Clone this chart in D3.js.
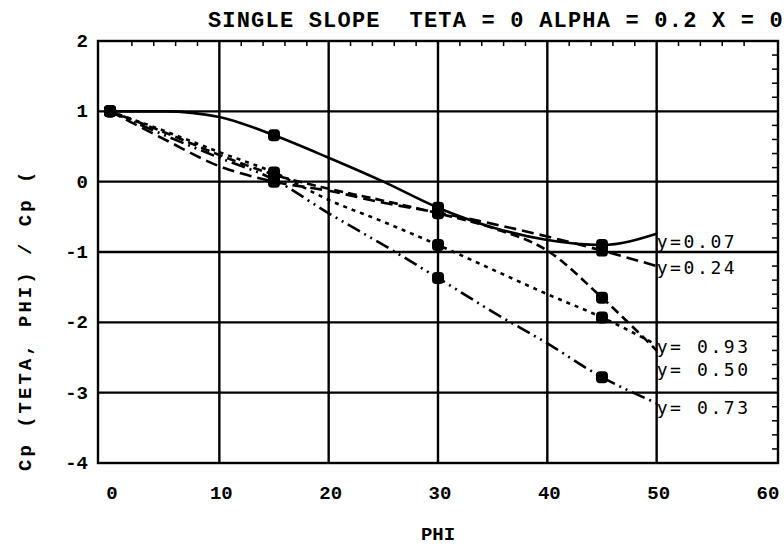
<!DOCTYPE html>
<html>
<head>
<meta charset="utf-8">
<script src="https://cdn.jsdelivr.net/npm/d3@7"></script>
<style>
  body { margin: 0; background: #fff; }
  text { fill: #000; white-space: pre; }
</style>
</head>
<body>
<div id="chart"></div>
<script>
// values
const phi = [0, 5, 10, 15, 20, 25, 30, 35, 40, 45, 50];
const markerPhi = [0, 15, 30, 45];

const y007 = [1.0, 1.0, 0.92, 0.66, 0.34, 0.0, -0.37, -0.65, -0.83, -0.9, -0.74];
const y024 = [1.0, 0.6, 0.22, 0.0, -0.13, -0.3, -0.44, -0.6, -0.78, -0.98, -1.2];
const y093 = [1.0, 0.7, 0.38, 0.1, -0.1, -0.27, -0.45, -0.66, -0.98, -1.65, -2.4];
const y050 = [1.0, 0.72, 0.42, 0.13, -0.26, -0.57, -0.9, -1.25, -1.6, -1.93, -2.32];
const y073 = [1.0, 0.66, 0.34, 0.03, -0.45, -0.9, -1.37, -1.85, -2.3, -2.78, -3.15];

const seriesNames = ["y=0.07", "y=0.24", "y= 0.93", "y= 0.50", "y= 0.73"];
const labelY = [-0.85, -1.22, -2.34, -2.66, -3.2];

const xTicks = [0, 10, 20, 30, 40, 50, 60];
const yTicks = [2, 1, 0, -1, -2, -3, -4];

const title = "SINGLE SLOPE  TETA = 0 ALPHA = 0.2 X = 0";

const width = 784, height = 548;
const margin = { top: 41, right: 6, bottom: 85, left: 98 };

const svg = d3.select("#chart").append("svg")
  .attr("width", width)
  .attr("height", height);

const x = d3.scaleLinear().domain([-1.1, 61.1]).range([margin.left, width - margin.right]);
const y = d3.scaleLinear().domain([-4, 2]).range([height - margin.bottom, margin.top]);

const x0 = x.range()[0], x1 = x.range()[1];
const yTop = y.range()[1], yBot = y.range()[0];

// grid
svg.append("g").selectAll("line")
  .data([10, 20, 30, 40, 50])
  .join("line")
  .attr("x1", d => x(d)).attr("x2", d => x(d))
  .attr("y1", yTop).attr("y2", yBot)
  .attr("stroke", "#000").attr("stroke-width", 2.4);

svg.append("g").selectAll("line")
  .data([1, 0, -1, -2, -3])
  .join("line")
  .attr("x1", x0).attr("x2", x1)
  .attr("y1", d => y(d)).attr("y2", d => y(d))
  .attr("stroke", "#000").attr("stroke-width", 2.4);

// minor ticks on top and right edges
svg.append("g").selectAll("line")
  .data(d3.range(2, 61, 2).filter(d => d % 10 !== 0))
  .join("line")
  .attr("x1", d => x(d)).attr("x2", d => x(d))
  .attr("y1", yTop).attr("y2", yTop + 5)
  .attr("stroke", "#000").attr("stroke-width", 1.5);

svg.append("g").selectAll("line")
  .data(d3.range(-3.8, 2, 0.2).filter(d => Math.abs(d - Math.round(d)) > 0.01))
  .join("line")
  .attr("x1", x1 - 6).attr("x2", x1)
  .attr("y1", d => y(d)).attr("y2", d => y(d))
  .attr("stroke", "#000").attr("stroke-width", 1.5);

// frame
svg.append("rect")
  .attr("x", x0).attr("y", yTop)
  .attr("width", x1 - x0).attr("height", yBot - yTop)
  .attr("fill", "none").attr("stroke", "#000").attr("stroke-width", 2.4);

// tick labels
const tickFont = "'Liberation Mono', 'Courier New', monospace";
svg.append("g").selectAll("text")
  .data(xTicks)
  .join("text")
  .attr("x", d => x(d) + 2)
  .attr("y", 499)
  .attr("text-anchor", "middle")
  .attr("font-family", tickFont).attr("font-weight", "bold").attr("font-size", 19)
  .text(d => d);

svg.append("g").selectAll("text")
  .data(yTicks)
  .join("text")
  .attr("x", 88)
  .attr("y", d => y(d) + 6)
  .attr("text-anchor", "end")
  .attr("font-family", tickFont).attr("font-weight", "bold").attr("font-size", 19)
  .text(d => d < 0 ? "-" + Math.abs(d) : d);

// axis titles
svg.append("text")
  .attr("x", x(30)).attr("y", 540)
  .attr("text-anchor", "middle")
  .attr("font-family", tickFont).attr("font-weight", "bold").attr("font-size", 19)
  .text("PHI");

svg.append("text")
  .attr("transform", "translate(31,471) rotate(-90)")
  .attr("font-family", tickFont).attr("font-weight", "bold").attr("font-size", 19)
  .attr("letter-spacing", 3)
  .text("Cp (TETA, PHI) / Cp (");

svg.append("text")
  .attr("x", 784).attr("y", 27)
  .attr("text-anchor", "end")
  .attr("font-family", tickFont).attr("font-weight", "bold").attr("font-size", 22)
  .attr("letter-spacing", 1.2)
  .text(title);

// curves
const allSeries = [y007, y024, y093, y050, y073];
const dashes = ["none", "12,6", "9,5", "4,5", "14,5,2,5,2,5"];

const line = d3.line()
  .x((d, i) => x(phi[i]))
  .y(d => y(d))
  .curve(d3.curveMonotoneX);

allSeries.forEach((vals, k) => {
  svg.append("path")
    .datum(vals)
    .attr("d", line)
    .attr("fill", "none")
    .attr("stroke", "#000")
    .attr("stroke-width", 2.6)
    .attr("stroke-dasharray", dashes[k]);

  svg.append("g").selectAll("rect")
    .data(markerPhi)
    .join("rect")
    .attr("x", d => x(d) - 6)
    .attr("y", d => y(vals[phi.indexOf(d)]) - 6)
    .attr("width", 12).attr("height", 12)
    .attr("rx", 4)
    .attr("fill", "#000");

  svg.append("text")
    .attr("x", x(50))
    .attr("y", y(labelY[k]) + 7)
    .attr("font-family", "'DejaVu Sans Mono', monospace")
    .attr("font-size", 18)
    .attr("letter-spacing", 2.6)
    .text(seriesNames[k]);
});
</script>
</body>
</html>
